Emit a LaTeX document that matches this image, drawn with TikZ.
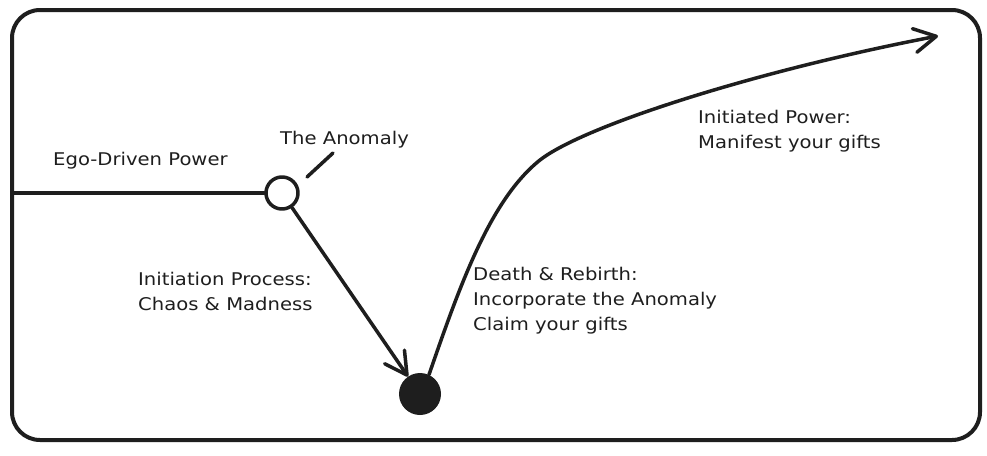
\documentclass[tikz,border=0pt]{standalone}
\usepackage{fontspec}
\setmainfont{DejaVu Sans}[FakeStretch=1.12]
\usetikzlibrary{arrows.meta}
\definecolor{ink}{HTML}{1E1E1E}
\tikzset{
  frame/.style={draw=ink, line width=4pt, rounded corners=28pt},
  stroke/.style={draw=ink, line width=3.5pt, line cap=round, line join=round},
  barb/.style={-{Straight Barb[length=22pt,width=24pt,line cap=round,line join=round]}},
  lbl/.style={anchor=base west, inner sep=0pt, align=left, text=ink,
    font=\fontsize{17.5}{25}\selectfont},
}
\begin{document}
\begin{tikzpicture}[x=1pt,y=-1pt]
\useasboundingbox (0,0) rectangle (987,455);
\fill[white] (0,0) rectangle (987,455);
\draw[frame] (12,10) rectangle (980,440);

\coordinate (start) at (12,193);
\node[circle, stroke, fill=white, minimum size=32pt, inner sep=0pt] (anom) at (282,193) {};
\node[circle, fill=ink, minimum size=42pt, inner sep=0pt] (dot) at (420,394) {};
\coordinate (l1) at (307,177);
\coordinate (l2) at (333,153);
\coordinate (ctip) at (938,36);

\draw[stroke] (start) -- (anom.west);
\draw[stroke] (l1) -- (l2);
\draw[stroke, barb] (anom) -- (dot);
\draw[stroke, barb] (dot.65) .. controls (460,285) and (490,200) .. (540,160)
  .. controls (585,125) and (760,70) .. (ctip);

\node[lbl] (ego) at (53,165) {Ego-Driven Power};
\node[lbl] (anomlbl) at (280,144) {The Anomaly};
\node[lbl] (init) at (138,310) {Initiation Process:\\Chaos \& Madness};
\node[lbl] (death) at (473,330) {Death \& Rebirth:\\Incorporate the Anomaly\\Claim your gifts};
\node[lbl] (initiated) at (698,148) {Initiated Power:\\Manifest your gifts};
\end{tikzpicture}
\end{document}
